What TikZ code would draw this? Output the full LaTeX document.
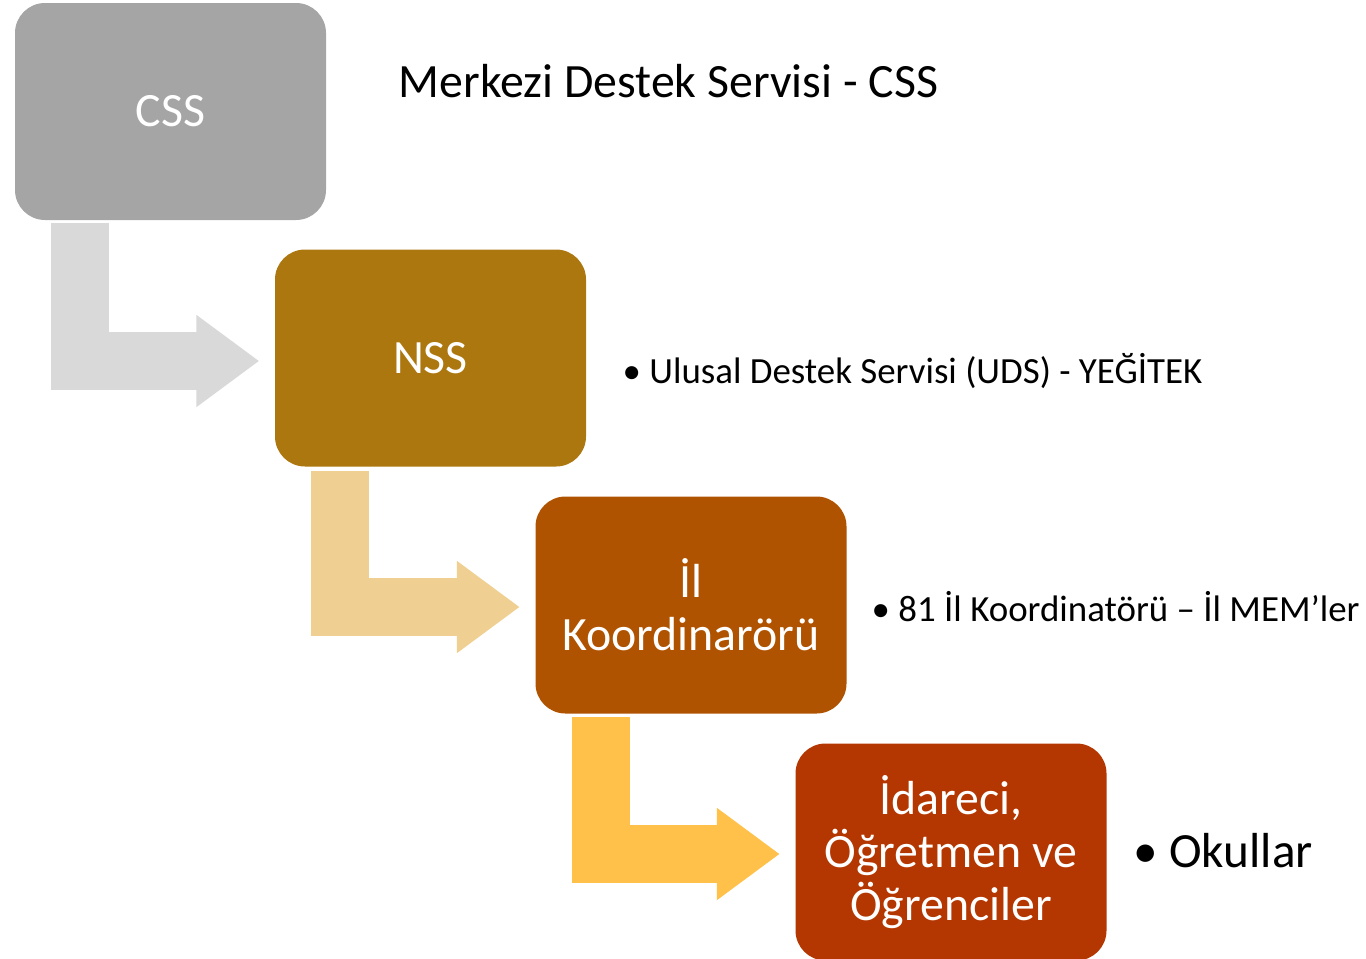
\documentclass[tikz,border=0pt]{standalone}
\usepackage{fontspec}
\setmainfont{Carlito}
\usetikzlibrary{arrows.meta,positioning}
\definecolor{cssgray}{HTML}{A5A5A5}
\definecolor{nssgold}{HTML}{AD7710}
\definecolor{ilrust}{HTML}{B05300}
\definecolor{okulred}{HTML}{B43600}
\definecolor{flowgray}{HTML}{D9D9D9}
\definecolor{flowtan}{HTML}{F0D092}
\definecolor{flowyellow}{HTML}{FFC14A}

\begin{document}
\begin{tikzpicture}
\tikzstyle{box}=[rectangle, rounded corners=0.3cm, minimum width=3.11cm, minimum height=2.17cm, inner sep=0pt, text=white, align=center, font=\fontsize{13.6}{15}\selectfont]
\tikzstyle{flow}=[line width=0.58cm, line join=miter, -{Triangle[length=0.63cm,width=0.88cm]}]
\tikzstyle{note}=[anchor=base west, inner sep=0pt, font=\fontsize{10.5}{12}\selectfont]
\useasboundingbox (0,0) rectangle (13.66,-9.58);
\node[box, fill=cssgray] (css) at (1.705,-1.115) {CSS};
\node[box, fill=nssgold] (nss) at (4.305,-3.58) {NSS};
\node[box, fill=ilrust] (il) at (6.91,-6.05) {İl\\Koordinarörü};
\node[box, fill=okulred] (okul) at (9.51,-8.52) {İdareci,\\Öğretmen ve\\Öğrenciler};
\draw[flow, draw=flowgray] ([xshift=0.66cm,yshift=-0.02cm]css.south west) |- ([xshift=-0.15cm,yshift=-0.03cm]nss.west);
\draw[flow, draw=flowtan] ([xshift=0.66cm,yshift=-0.04cm]nss.south west) |- ([xshift=-0.15cm,yshift=-0.02cm]il.west);
\draw[flow, draw=flowyellow] ([xshift=0.66cm,yshift=-0.03cm]il.south west) |- ([xshift=-0.15cm,yshift=-0.02cm]okul.west);
\node[note, font=\fontsize{13.6}{15}\selectfont] (cssnote) at (3.98,-0.97) {Merkezi Destek Servisi - CSS};
\node[note] (nssnote) at (6.22,-3.83) {•~Ulusal Destek Servisi (UDS) - YEĞİTEK};
\node[note] (ilnote) at (8.71,-6.21) {•~81 İl Koordinatörü – İl MEM’ler};
\node[note, font=\fontsize{14}{16}\selectfont] (okulnote) at (11.33,-8.67) {•~Okullar};
\end{tikzpicture}
\end{document}
